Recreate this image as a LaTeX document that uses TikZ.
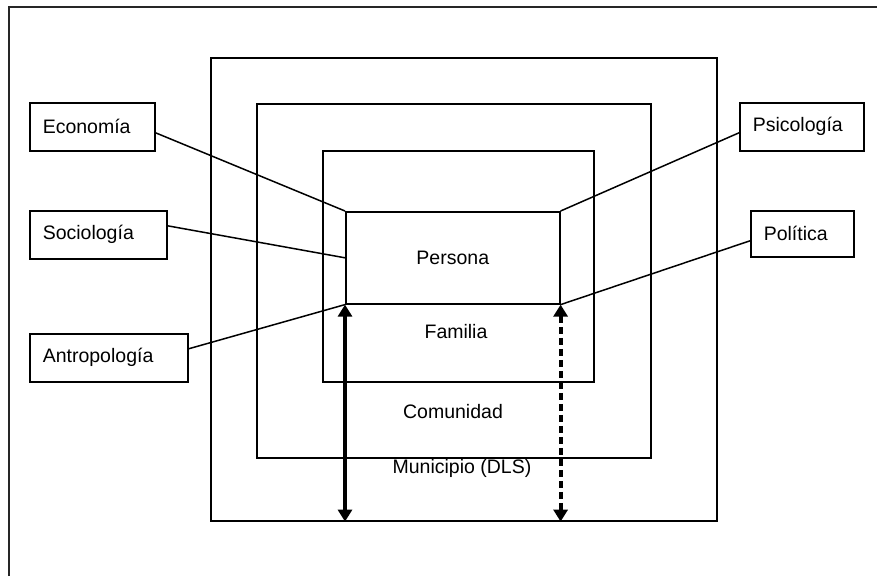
\documentclass[tikz,border=0pt]{standalone}
\usepackage{fontspec}
\setmainfont{Liberation Sans}
\usepackage{tikz}
\usetikzlibrary{positioning,arrows.meta}

\tikzset{
	anillo/.style={draw, anchor=north west, inner sep=0pt, line width=1.6pt},
	campo/.style={draw, anchor=north west, minimum height=48pt, inner xsep=13pt, align=left, line width=1.6pt},
	enlace/.style={line width=1.5pt},
	flecha/.style={{Triangle[length=12pt,width=14pt]}-{Triangle[length=12pt,width=14pt]}, line width=4pt}
}

\begin{document}
\begin{tikzpicture}[x=1pt, y=-1pt, font=\fontsize{19.5}{23}\selectfont]
			\useasboundingbox (0, 0) rectangle (877, 576);
			\draw [line width=2.2pt, black!85] (9, 576) -- (9, 7) -- (877, 7);
			\node [anillo, minimum width=506pt, minimum height=463pt] (mun) at (210, 57) {};
			\node [anillo, minimum width=394pt, minimum height=354pt] (com) at (256, 103) {};
			\node [anillo, minimum width=271pt, minimum height=231pt] (fam) at (322, 150) {};
			\node [anillo, minimum width=214pt, minimum height=92pt] (per) at (345, 211) {Persona};
			\node (lfam) at (456, 332) {Familia};
			\node (lcom) at (453, 412) {Comunidad};
			\node (lmun) at (462, 468) {Municipio (DLS)};
			\node [campo, text width=99pt] (eco) at (29, 102) {Economía};
			\node [campo, text width=111pt] (soc) at (29, 210) {Sociología};
			\node [campo, text width=132pt] (ant) at (29, 333) {Antropología};
			\node [campo, text width=98pt] (psi) at (739, 102) {Psicología};
			\node [campo, text width=77pt, minimum height=46pt] (pol) at (750, 210) {Política};
			\draw [enlace] ([yshift=-6pt]eco.east) -- (per.north west);
			\draw [enlace] ([yshift=9pt]soc.east) -- (per.west);
			\draw [enlace] ([yshift=9pt]ant.east) -- (per.south west);
			\draw [enlace] ([yshift=-6pt]psi.west) -- (per.north east);
			\draw [enlace] ([yshift=-7pt]pol.west) -- (per.south east);
			\draw [flecha] (per.south west) -- (per.south west |- mun.south);
			\draw [flecha, dash pattern=on 7pt off 4pt] (per.south east) -- (per.south east |- mun.south);
		\end{tikzpicture}
\end{document}
